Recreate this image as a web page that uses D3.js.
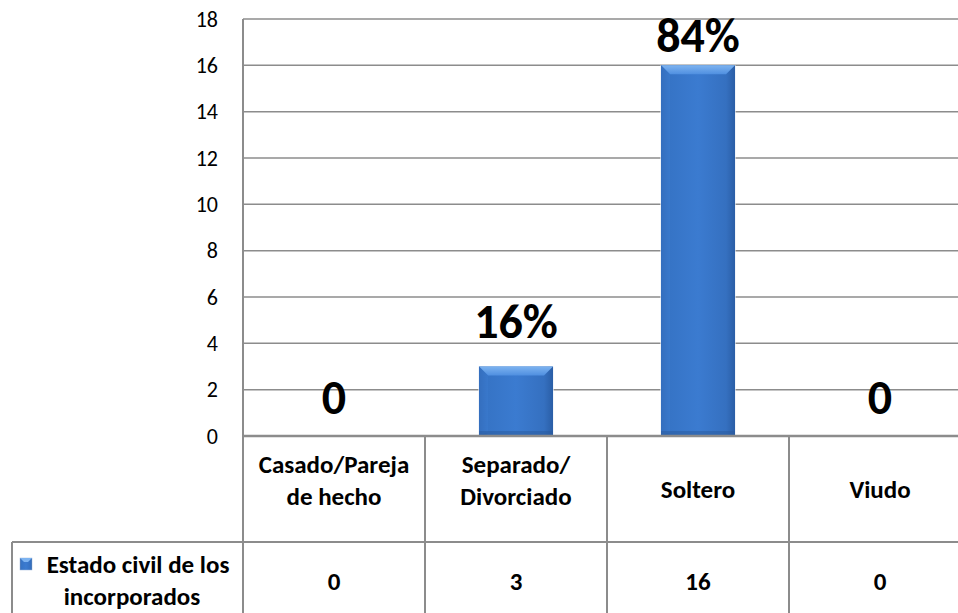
<!DOCTYPE html>
<html>
<head>
<meta charset="utf-8">
<script src="https://cdn.jsdelivr.net/npm/d3@7"></script>
<style>
  body { margin: 0; background: #fff; }
  svg { display: block; font-family: Carlito, Calibri, Lato, "Open Sans", sans-serif; }
  .tick-label { font-size: 22px; fill: #000; }
  .cell { font-size: 25px; font-weight: bold; fill: #000; }
  .big { font-size: 48px; font-weight: bold; fill: #000; }
</style>
</head>
<body>
<div id="chart"></div>
<script>
// chart data
let categories = ["Casado/Pareja de hecho", "Separado/ Divorciado", "Soltero", "Viudo"];
let headerLines = [["Casado/Pareja", "de hecho"], ["Separado/", "Divorciado"], ["Soltero"], ["Viudo"]];
let values = [0, 3, 16, 0];
let pctLabels = ["0", "16%", "84%", "0"];
let yTicks = [0, 2, 4, 6, 8, 10, 12, 14, 16, 18];
let seriesName = ["Estado civil de los", "incorporados"];

let width = 958;
let height = 613;
let plotLeft = 243;
let plotTop = 19;
let base = 436;
let band = 182;
let rowSplit = 542;
let tableLeft = 12;
let gridColor = "#8c8c8c";

let svg = d3.select("#chart").append("svg")
  .attr("width", width)
  .attr("height", height);

let defs = svg.append("defs");
let grad = defs.append("linearGradient").attr("id", "barGrad")
  .attr("x1", 0).attr("x2", 1).attr("y1", 0).attr("y2", 0);
grad.append("stop").attr("offset", "0%").attr("stop-color", "#2d62ad");
grad.append("stop").attr("offset", "12%").attr("stop-color", "#3674c6");
grad.append("stop").attr("offset", "50%").attr("stop-color", "#3b7bd0");
grad.append("stop").attr("offset", "88%").attr("stop-color", "#3570c0");
grad.append("stop").attr("offset", "100%").attr("stop-color", "#2a5ea6");

let vgrad = defs.append("linearGradient").attr("id", "topGrad")
  .attr("x1", 0).attr("x2", 0).attr("y1", 0).attr("y2", 1);
vgrad.append("stop").attr("offset", "0%").attr("stop-color", "#7db3f0");
vgrad.append("stop").attr("offset", "100%").attr("stop-color", "#4f8fe0");

let scaleX = d3.scaleBand()
  .domain(categories)
  .range([plotLeft, plotLeft + band * categories.length])
  .padding(0);

let scaleY = d3.scaleLinear()
  .domain([0, 18])
  .range([base, plotTop]);

// gridlines
svg.append("g").selectAll("line")
  .data(yTicks.filter(d => d > 0))
  .join("line")
  .attr("x1", plotLeft).attr("x2", width)
  .attr("y1", d => scaleY(d)).attr("y2", d => scaleY(d))
  .attr("stroke", gridColor).attr("stroke-width", 1.5);

// y axis labels
svg.append("g").selectAll("text")
  .data(yTicks)
  .join("text")
  .attr("class", "tick-label")
  .attr("x", 218)
  .attr("y", d => scaleY(d))
  .attr("dy", "0.35em")
  .attr("text-anchor", "end")
  .text(d => d);

// bars
let barW = 74;
let bars = svg.append("g").selectAll("g")
  .data(categories.map((c, i) => ({c, v: values[i]})).filter(d => d.v > 0))
  .join("g")
  .attr("transform", d => `translate(${scaleX(d.c) + scaleX.bandwidth() / 2 - barW / 2},${scaleY(d.v)})`);

bars.append("rect")
  .attr("x", -1).attr("y", 0)
  .attr("width", barW + 2)
  .attr("height", d => base - scaleY(d.v) + 1)
  .attr("fill", "#e9eef6").attr("opacity", 0.6);

bars.append("rect")
  .attr("width", barW)
  .attr("height", d => base - scaleY(d.v))
  .attr("fill", "url(#barGrad)");

bars.append("path")
  .attr("d", `M0,0L${barW},0L${barW - 9},9L9,9Z`)
  .attr("fill", "url(#topGrad)");

bars.append("path")
  .attr("d", d => {
    let h = base - scaleY(d.v);
    return `M0,0L9,9L9,${h - 4}L0,${h}Z`;
  })
  .attr("fill", "#3c7bd0").attr("opacity", 0.5);

bars.append("rect")
  .attr("y", d => base - scaleY(d.v) - 5)
  .attr("width", barW)
  .attr("height", 5)
  .attr("fill", "#2a5a9c").attr("opacity", 0.5);

// axis line and baseline
svg.append("line")
  .attr("x1", plotLeft).attr("x2", plotLeft)
  .attr("y1", plotTop).attr("y2", height)
  .attr("stroke", gridColor).attr("stroke-width", 2);
svg.append("line")
  .attr("x1", plotLeft).attr("x2", width)
  .attr("y1", base).attr("y2", base)
  .attr("stroke", gridColor).attr("stroke-width", 2.5);

// big value labels
let nudge = [0, -7, 9, 0];
svg.append("g").selectAll("text")
  .data(categories)
  .join("text")
  .attr("class", "big")
  .attr("x", d => scaleX(d) + scaleX.bandwidth() / 2)
  .attr("y", (d, i) => scaleY(values[i]) - 22 + nudge[i])
  .attr("text-anchor", "middle")
  .text((d, i) => pctLabels[i]);

// data table
let table = svg.append("g");
categories.slice(1).forEach(c => {
  table.append("line")
    .attr("x1", scaleX(c)).attr("x2", scaleX(c))
    .attr("y1", base).attr("y2", height)
    .attr("stroke", gridColor).attr("stroke-width", 2);
});
table.append("line")
  .attr("x1", tableLeft).attr("x2", width)
  .attr("y1", rowSplit).attr("y2", rowSplit)
  .attr("stroke", gridColor).attr("stroke-width", 2);
table.append("line")
  .attr("x1", tableLeft).attr("x2", tableLeft)
  .attr("y1", rowSplit).attr("y2", height)
  .attr("stroke", gridColor).attr("stroke-width", 2);

let headerMid = 480;
let lineH = 32;
categories.forEach((c, i) => {
  let lines = headerLines[i];
  let cx = scaleX(c) + scaleX.bandwidth() / 2;
  let y0 = lines.length === 1 ? 489 : headerMid - lineH / 2;
  lines.forEach((t, j) => {
    table.append("text")
      .attr("class", "cell")
      .attr("x", cx)
      .attr("y", y0 + j * lineH)
      .attr("dy", "0.35em")
      .attr("text-anchor", "middle")
      .text(t);
  });
  table.append("text")
    .attr("class", "cell")
    .attr("x", cx)
    .attr("y", 581)
    .attr("dy", "0.35em")
    .attr("text-anchor", "middle")
    .text(values[i]);
});

// series row label with legend key
table.append("rect")
  .attr("x", 20).attr("y", 558)
  .attr("width", 12).attr("height", 12)
  .attr("fill", "url(#barGrad)")
  .attr("stroke", "#9fb8dc").attr("stroke-width", 0.5);
table.append("path")
  .attr("d", "M20,558L32,558L28,562L24,562Z")
  .attr("fill", "#7db3f0");
table.append("text")
  .attr("class", "cell")
  .attr("x", 138).attr("y", 564)
  .attr("dy", "0.35em")
  .attr("text-anchor", "middle")
  .text(seriesName[0]);
table.append("text")
  .attr("class", "cell")
  .attr("x", 132).attr("y", 596)
  .attr("dy", "0.35em")
  .attr("text-anchor", "middle")
  .text(seriesName[1]);
</script>
</body>
</html>
